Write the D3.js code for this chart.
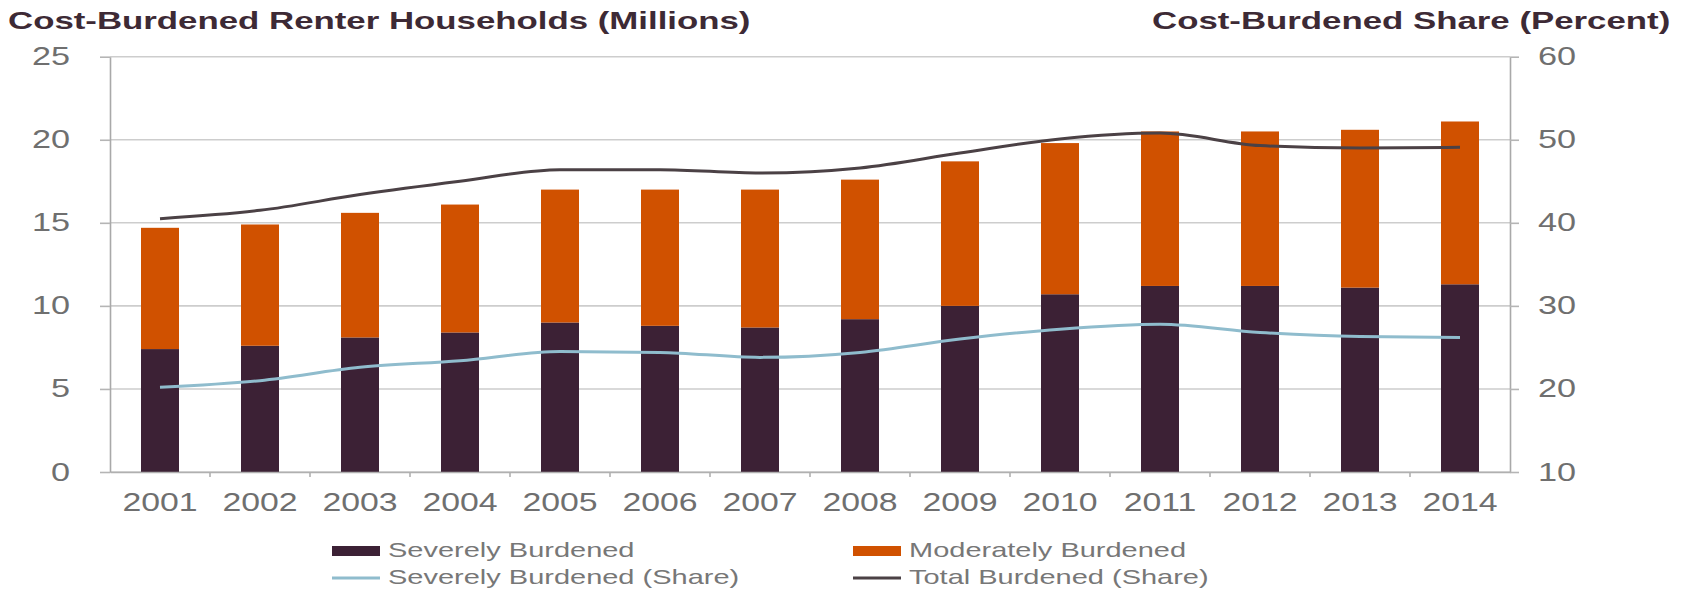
<!DOCTYPE html>
<html>
<head>
<meta charset="utf-8">
<script src="https://cdn.jsdelivr.net/npm/d3@7"></script>
<style>
  html, body { margin: 0; padding: 0; background: #fff; }
  svg { display: block; }
</style>
</head>
<body>
<div id="chart"></div>
<script>
// values
const years = ["2001","2002","2003","2004","2005","2006","2007","2008","2009","2010","2011","2012","2013","2014"];
const severe = [7.4, 7.6, 8.1, 8.4, 9.0, 8.8, 8.7, 9.2, 10.0, 10.7, 11.2, 11.2, 11.1, 11.3];
const moderate = [7.3, 7.3, 7.5, 7.7, 8.0, 8.2, 8.3, 8.4, 8.7, 9.1, 9.3, 9.3, 9.5, 9.8];
const severeShare = [20.2, 21.0, 22.6, 23.4, 24.5, 24.4, 23.8, 24.4, 26.0, 27.2, 27.8, 26.8, 26.3, 26.2];
const totalShare = [40.5, 41.5, 43.4, 45.0, 46.4, 46.4, 46.0, 46.6, 48.4, 50.1, 50.8, 49.3, 49.0, 49.1];
const leftTicks = [0, 5, 10, 15, 20, 25];
const rightTicks = [10, 20, 30, 40, 50, 60];

const width = 1688, height = 590;
const plot = { left: 110, right: 1510, top: 56.7, bottom: 472 };

const colSevere = "#3c2135";
const colModerate = "#d05100";
const colSevShare = "#8fbccd";
const colTotShare = "#4b4145";
const textGrey = "#6f6f6f";
const FONT = "'Liberation Sans', Arial, sans-serif";

// source image is stretched horizontally, so widen every text by this factor
function widen(sel, k) {
    sel.each(function() {
        const w = this.getComputedTextLength();
        d3.select(this).attr("textLength", w * k).attr("lengthAdjust", "spacingAndGlyphs");
    });
}

const svg = d3.select("#chart")
    .append("svg")
    .attr("width", width)
    .attr("height", height);

const x = d3.scaleBand()
    .domain(years)
    .range([plot.left, plot.right])
    .paddingInner(0.62)
    .paddingOuter(0.31);

const yL = d3.scaleLinear().domain([0, 25]).range([plot.bottom, plot.top]);
const yR = d3.scaleLinear().domain([10, 60]).range([plot.bottom, plot.top]);

// Gridlines
svg.append("g")
    .selectAll("line")
    .data(leftTicks)
    .join("line")
    .attr("x1", plot.left)
    .attr("x2", plot.right)
    .attr("y1", d => yL(d))
    .attr("y2", d => yL(d))
    .attr("stroke", "#cdcdcd")
    .attr("stroke-width", 1.6);

// Stacked bars
const stackData = years.map((yr, i) => ({ year: yr, severe: severe[i], moderate: moderate[i] }));
const series = d3.stack().keys(["severe", "moderate"])(stackData);
const barColors = { severe: colSevere, moderate: colModerate };

svg.append("g")
    .selectAll("g")
    .data(series)
    .join("g")
    .attr("fill", d => barColors[d.key])
    .selectAll("rect")
    .data(d => d)
    .join("rect")
    .attr("x", d => x(d.data.year))
    .attr("width", x.bandwidth())
    .attr("y", d => yL(d[1]))
    .attr("height", d => yL(d[0]) - yL(d[1]));

// Share lines on the right axis
const line = d3.line()
    .x((d, i) => x(years[i]) + x.bandwidth() / 2)
    .y(d => yR(d))
    .curve(d3.curveMonotoneX);

svg.append("path")
    .datum(totalShare)
    .attr("fill", "none")
    .attr("stroke", colTotShare)
    .attr("stroke-width", 3)
    .attr("d", line);

svg.append("path")
    .datum(severeShare)
    .attr("fill", "none")
    .attr("stroke", colSevShare)
    .attr("stroke-width", 3)
    .attr("d", line);

// Left axis
const axL = svg.append("g")
    .attr("transform", `translate(${plot.left},0)`)
    .call(d3.axisLeft(yL).tickValues(leftTicks).tickSize(10).tickPadding(30).tickSizeOuter(0));
axL.select(".domain").attr("stroke", "#a9a9a9").attr("stroke-width", 1.6);
axL.selectAll(".tick line").attr("stroke", "#b5b5b5").attr("stroke-width", 1.6);
axL.selectAll(".tick text")
    .attr("fill", textGrey)
    .style("font-family", FONT)
    .style("font-size", "25px")
    .call(widen, 1.37);

// Right axis
const axR = svg.append("g")
    .attr("transform", `translate(${plot.right},0)`)
    .call(d3.axisRight(yR).tickValues(rightTicks).tickSize(9).tickPadding(19).tickSizeOuter(0));
axR.select(".domain").attr("stroke", "#a9a9a9").attr("stroke-width", 1.6);
axR.selectAll(".tick line").attr("stroke", "#b5b5b5").attr("stroke-width", 1.6);
axR.selectAll(".tick text")
    .attr("fill", textGrey)
    .style("font-family", FONT)
    .style("font-size", "25px")
    .call(widen, 1.37);

// Bottom axis: labels under bars, small ticks between categories
const axB = svg.append("g")
    .attr("transform", `translate(0,${plot.bottom})`)
    .call(d3.axisBottom(x).tickSize(0).tickPadding(21).tickSizeOuter(0));
axB.select(".domain").attr("stroke", "#b0b0b0").attr("stroke-width", 1.6);
axB.selectAll(".tick text")
    .attr("fill", textGrey)
    .style("font-family", FONT)
    .style("font-size", "26px")
    .call(widen, 1.3);

svg.append("g")
    .selectAll("line")
    .data(years.slice(1))
    .join("line")
    .attr("x1", d => x(d) - x.step() * x.paddingInner() / 2)
    .attr("x2", d => x(d) - x.step() * x.paddingInner() / 2)
    .attr("y1", plot.bottom)
    .attr("y2", plot.bottom + 5)
    .attr("stroke", "#b0b0b0")
    .attr("stroke-width", 1.6);

// Axis titles
svg.append("text")
    .attr("x", 8)
    .attr("y", 29)
    .attr("fill", "#3d2a35")
    .style("font-family", FONT)
    .style("font-weight", "bold")
    .style("font-size", "24px")
    .text("Cost-Burdened Renter Households (Millions)")
    .call(widen, 1.45);

svg.append("text")
    .attr("x", 1152)
    .attr("y", 29)
    .attr("fill", "#3d2a35")
    .style("font-family", FONT)
    .style("font-weight", "bold")
    .style("font-size", "24px")
    .text("Cost-Burdened Share (Percent)")
    .call(widen, 1.45);

// Legend
const legendItems = [
    { label: "Severely Burdened", type: "rect", color: colSevere, x: 332, y: 557 },
    { label: "Moderately Burdened", type: "rect", color: colModerate, x: 853, y: 557 },
    { label: "Severely Burdened (Share)", type: "line", color: colSevShare, x: 332, y: 584 },
    { label: "Total Burdened (Share)", type: "line", color: colTotShare, x: 853, y: 584 }
];

const legend = svg.append("g")
    .selectAll("g")
    .data(legendItems)
    .join("g")
    .attr("transform", d => `translate(${d.x},${d.y})`);

legend.filter(d => d.type === "rect")
    .append("rect")
    .attr("x", 0)
    .attr("y", -11)
    .attr("width", 48)
    .attr("height", 10)
    .attr("fill", d => d.color);

legend.filter(d => d.type === "line")
    .append("line")
    .attr("x1", 0)
    .attr("x2", 48)
    .attr("y1", -6)
    .attr("y2", -6)
    .attr("stroke", d => d.color)
    .attr("stroke-width", 3);

legend.append("text")
    .attr("x", 56)
    .attr("y", 0)
    .attr("fill", "#777")
    .style("font-family", FONT)
    .style("font-size", "21px")
    .text(d => d.label)
    .call(widen, 1.38);
</script>
</body>
</html>
